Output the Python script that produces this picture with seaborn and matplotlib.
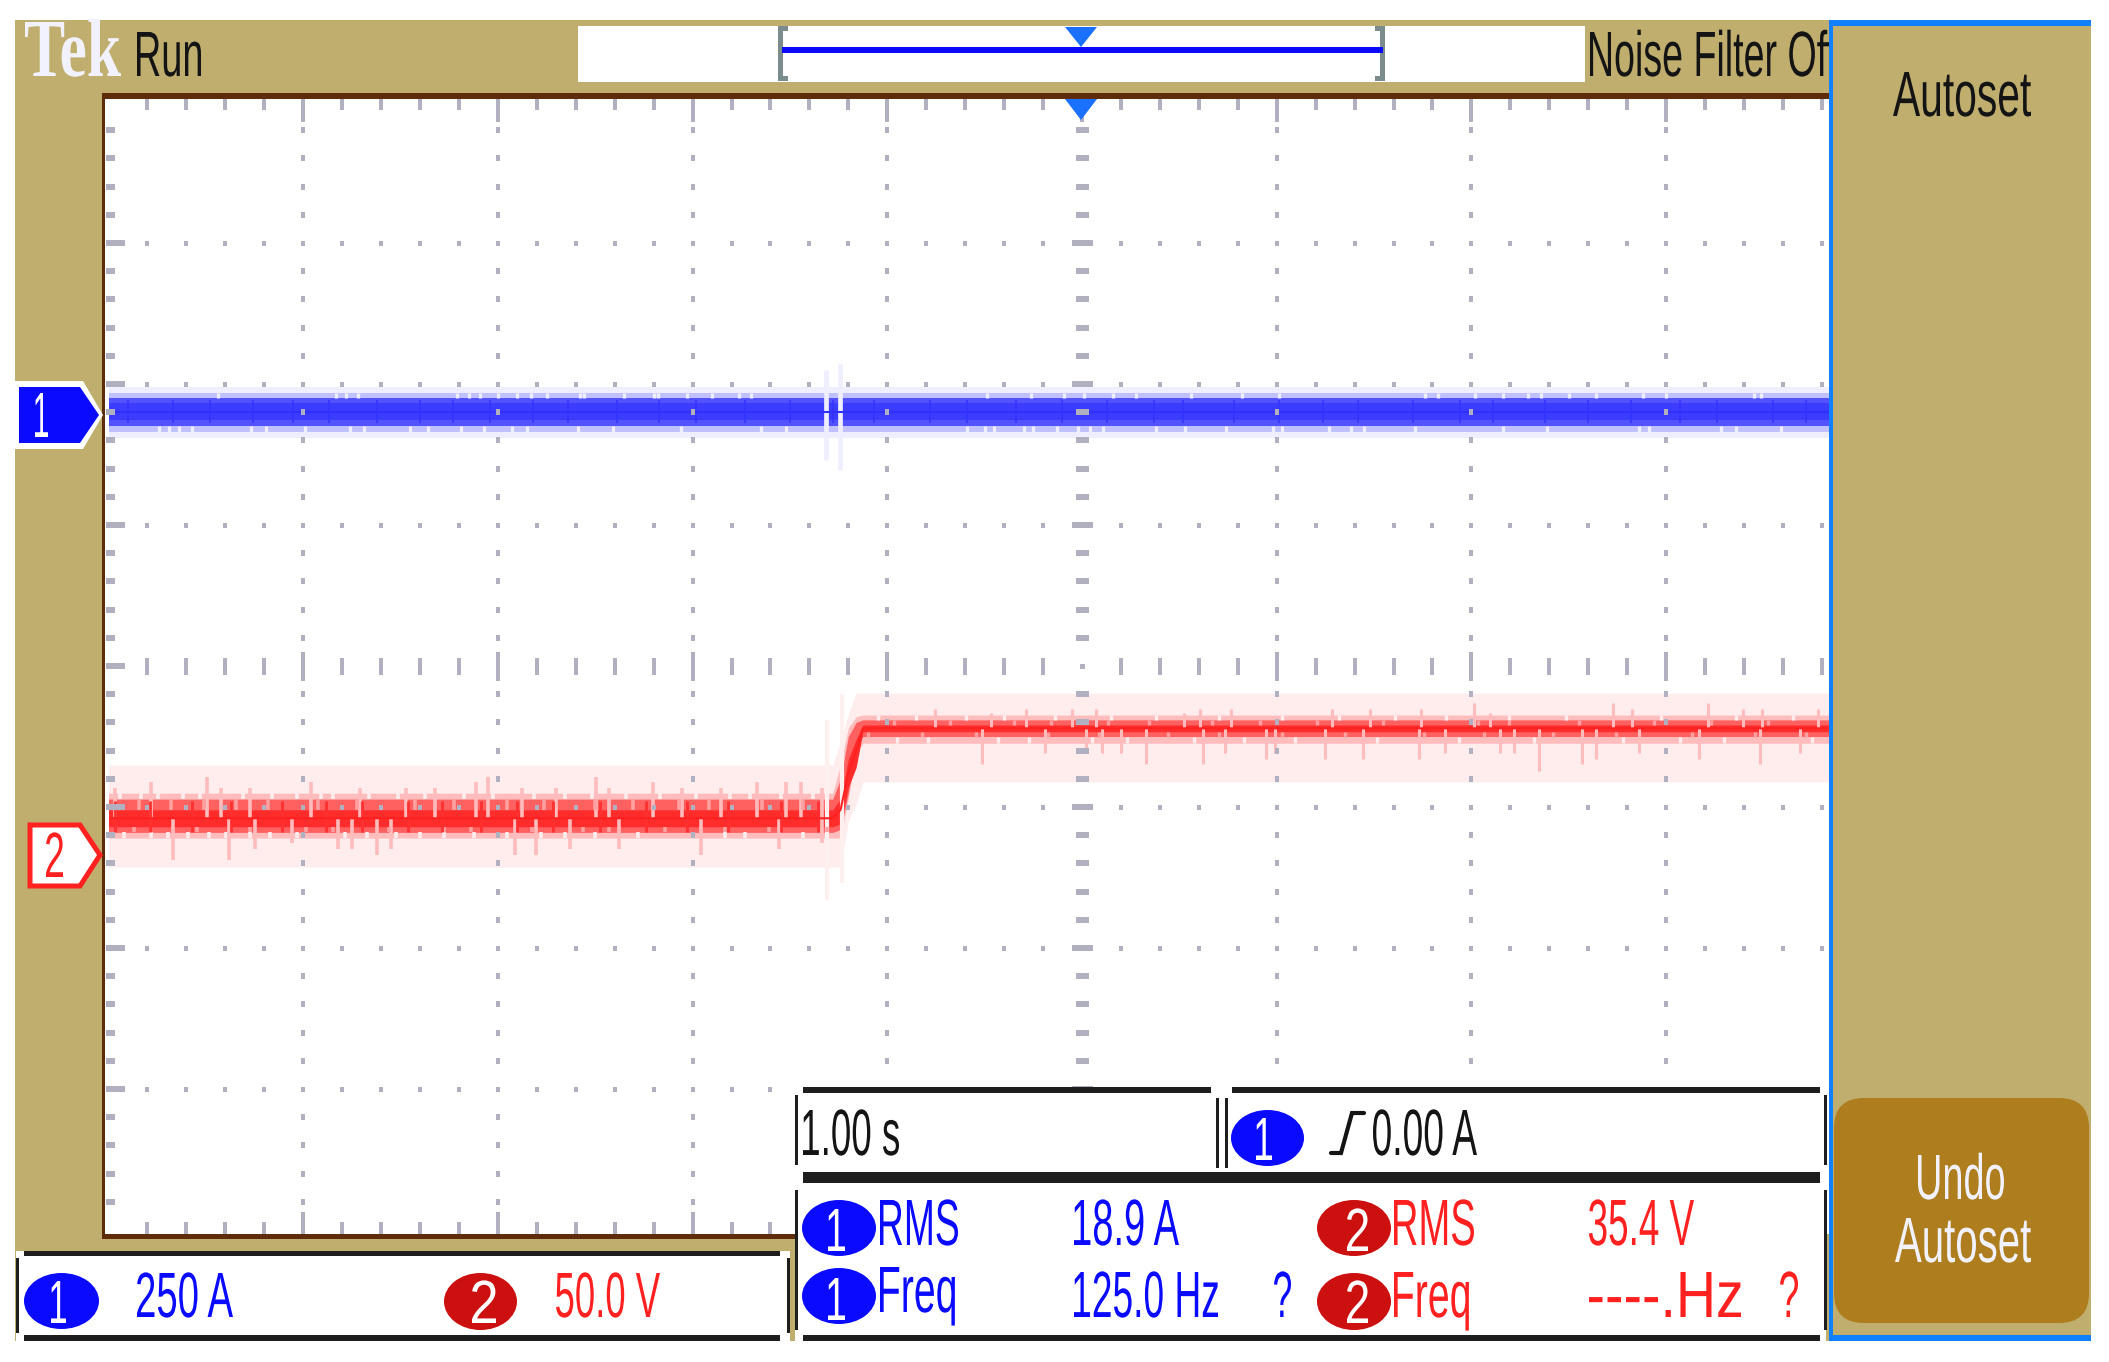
import matplotlib
matplotlib.use("Agg")
import matplotlib.pyplot as plt
import matplotlib.patheffects as pe
from matplotlib.font_manager import FontProperties
from matplotlib.patches import Ellipse, FancyBboxPatch, Polygon, Rectangle
from matplotlib.textpath import TextPath
from matplotlib.transforms import Affine2D
import pandas as pd
import seaborn as sns

# Channel 2 (volts), step around t = 3.8 s
ch2_t = [0, 3.72, 3.76, 3.80, 3.84, 3.875, 8.84]
ch2_mean = [13, 13, 16, 29, 37, 44.9, 44.9]
ch2_light_up = [31.9, 31.9, 40, 50, 57.4, 57.4, 57.4]
ch2_light_lo = [-4.3, -4.3, -4.3, 12, 18, 25.9, 25.9]
ch2_mid_up = [21.9, 21.9, 32, 45, 49, 49.6, 49.6]
ch2_mid_lo = [6, 6, 6, 20, 36, 39.6, 39.6]
ch2_med_up = [19.8, 19.8, 27, 42, 47, 47.9, 47.9]
ch2_med_lo = [8, 8, 9, 22, 38, 42, 42]
ch2_dark_up = [16, 16, 20, 34, 41, 46.1, 46.1]
ch2_dark_lo = [10, 10, 11, 24, 31, 43.7, 43.7]

# Channel 2 spikes
low_up_t = [0.219, 0.505, 1.04, 1.887, 1.949, 2.502, 2.796, 3.331, 3.48, 3.555,
            0.032, 0.58, 0.729, 1.29, 1.526, 1.675, 2.124, 2.298, 2.57, 2.945, 3.144, 3.667]
low_up_v = [25.9, 27.8, 25.9, 25.9, 27.8, 27.8, 25.9, 25.9, 25.9, 25.9,
            23.7, 23.7, 23.7, 23.7, 23.7, 23.7, 23.7, 23.7, 23.7, 23.7, 23.7, 23.7]
low_down_t = [0.331, 0.617, 0.754, 0.941, 1.178, 1.252, 1.377, 1.451, 2.086, 2.198,
              2.372, 2.621, 3.045, 3.443, 3.667]
low_down_v = [-1.9, -1.9, 2.1, 4.2, 2.1, 2.1, 0.1, 2.1, 0.1, 0.1, 2.1, 2.1, 0.1, 2.1, 4.2]
high_up_t = [4.243, 4.535, 4.714, 4.95, 5.07, 5.524, 5.605, 5.767, 6.286, 6.481,
             6.74, 7.016, 7.097, 7.729, 7.826, 8.216, 8.394, 8.491, 8.783]
high_up_v = [51.6, 50.2, 51.6, 51.6, 51.6, 50.2, 51.6, 51.6, 51.6, 51.6,
             51.6, 53.8, 50.2, 53.8, 51.6, 53.8, 51.6, 51.6, 51.6]
high_down_t = [4.487, 4.811, 5.022, 5.103, 5.2, 5.33, 5.621, 5.735, 5.946, 5.994, 6.247, 6.442,
               6.73, 6.863, 7.145, 7.22, 7.35, 7.567, 7.638, 7.859, 8.167, 8.485, 8.686]
high_down_v = [32.1, 36.1, 36.1, 36.1, 36.1, 32.1, 32.1, 36.1, 33.9, 36.1, 33.9, 33.9,
               33.9, 36.1, 36.1, 36.1, 29.9, 32.1, 33.9, 36.1, 33.9, 32.1, 36.1]
ch2_glitch_t = [3.69, 3.77]
ch2_glitch_up = [47.9, 57]
ch2_glitch_lo = [-16, -10]

# Channel 2 noise: columns where the trace edge drops out
low_gap_top = [0.057, 0.169, 0.256, 0.381, 0.468, 0.692, 0.841, 0.966, 1.09, 1.153, 1.339, 1.489, 1.626,
               1.825, 1.974, 2.186, 2.347, 2.484, 2.659, 2.833, 3.02, 3.194, 3.294, 3.455, 3.617]
low_gap_bot = [0.082, 0.219, 0.306, 0.406, 0.518, 0.605, 0.729, 0.829, 0.966, 1.215, 1.327, 1.476,
               1.601, 1.725, 1.875, 2.049, 2.223, 2.347, 2.497, 2.721, 3.169, 3.269, 3.567]
low_notch_top = [0.157, 0.319, 0.493, 0.655, 0.817, 1.078, 1.277, 1.576, 1.775, 2.049, 2.235, 2.497,
                 2.696, 2.932, 3.082, 3.356, 3.567]
low_notch_bot = [0.132, 0.456, 0.729, 1.016, 1.153, 1.439, 1.725, 1.862, 2.173, 2.435, 2.571, 2.858,
                 3.169, 3.393, 3.69]
low_teeth = [0.032, 0.214, 0.431, 0.63, 0.891, 1.115, 1.302, 1.538, 1.713, 1.912, 2.099, 2.285, 2.522,
             2.759, 2.97, 3.182, 3.455, 3.642]
high_gap_top = [3.952, 4.146, 4.405, 4.6, 4.859, 5.151, 5.378, 5.703, 6.027, 6.319, 6.61, 6.87, 7.194,
                7.486, 7.972, 8.361, 8.653]
high_gap_bot = [4.049, 4.211, 4.568, 4.73, 5.054, 5.232, 5.573, 5.832, 6.092, 6.513, 6.935, 7.324,
                7.778, 8.07, 8.297, 8.751]
high_notch_top = [4.033, 4.324, 4.649, 4.843, 5.135, 5.346, 5.67, 5.913, 6.205, 6.546, 7.032, 7.194,
                  7.551, 7.94, 8.232, 8.524]
high_notch_bot = [3.903, 4.179, 4.454, 4.827, 5.086, 5.443, 5.703, 6.027, 6.351, 6.756, 7.064, 7.421,
                  7.745, 8.135, 8.459, 8.718]

# Channel 1 (amps), flat
ch1_t = [0, 8.84]
ch1_mean = [6, 6]
ch1_light = (-40.8, 49.6)
ch1_mid = (-30, 39)
ch1_med = (-19.5, 30)
ch1_dark = (-9, 21)
ch1_glitch_t = [3.685, 3.757]
ch1_glitch_up = [80, 90]
ch1_glitch_lo = [-80, -97.5]
ch1_gap_top = [0.56, 1.17, 1.22, 1.28, 1.79, 1.85, 1.91, 2.0, 2.1, 2.17, 2.25, 2.42, 2.44, 2.65, 2.8,
               2.82, 2.97, 3.1, 3.24, 3.3, 4.51, 4.74, 4.91, 5.01, 5.16, 5.28, 5.56, 5.82, 6.01, 6.76,
               6.83, 7.02, 7.16, 7.29, 7.36, 7.5, 7.64, 7.88, 8.0, 8.45, 8.49]
ch1_gap_bot = [0.26, 0.31, 0.36, 0.43, 0.73, 0.81, 1.01, 1.24, 1.31, 1.55, 1.64, 1.81, 1.93, 2.07, 2.15,
               2.41, 2.59, 2.94, 3.35, 3.48, 4.41, 4.5, 4.55, 4.7, 4.75, 4.87, 4.98, 5.04, 5.11, 5.38,
               5.53, 5.74, 5.98, 6.03, 6.27, 6.38, 6.45, 6.71, 7.16, 7.39, 7.86, 7.91, 8.28, 8.36, 8.59]
ch1_teeth = [0.1, 0.33, 0.52, 0.74, 0.95, 1.13, 1.38, 1.6, 1.77, 1.96, 2.18, 2.36, 2.61, 2.83, 3.02, 3.27,
             3.5, 3.72, 3.93, 4.22, 4.41, 4.66, 4.9, 5.13, 5.37, 5.52, 5.78, 6.01, 6.24, 6.42, 6.7, 6.94,
             7.11, 7.38, 7.6, 7.82, 8.07, 8.26, 8.55, 8.72]

TAN = "#bfae6e"
BROWN = "#5e2c0a"
TICK = "#b0b0c0"
INK = "#141414"
BLUE = "#0a0aff"
RED_TXT = "#ff2020"
RED_BADGE = "#cc1010"
PANEL_BLUE = "#1080ff"

sns.set_theme(style="white")
DPI = 100
fig = plt.figure(figsize=(21.09, 13.62), dpi=DPI, facecolor="white")

# background, traces, then everything that sits over the traces
bg = fig.add_axes([0, 0, 1, 1], zorder=0)
bg.set_xlim(0, 2109)
bg.set_ylim(1362, 0)
bg.axis("off")
bg.add_patch(Rectangle((15, 20), 2076, 1321, fc=TAN, ec="none"))
bg.add_patch(Rectangle((105, 99), 1724, 1135, fc="white", ec="none"))

ax_a = fig.add_axes([108.5 / 2109, 1 - 1230 / 1362, (1829 - 108.5) / 2109, 1128 / 1362], zorder=1)
ax_a.axis("off")
ax_v = ax_a.twinx()
ax_v.axis("off")

# channel 2
ax_v.fill_between(ch2_t, ch2_light_lo, ch2_light_up, color="#ffeded", lw=0)
ax_v.vlines(ch2_glitch_t, ch2_glitch_lo, ch2_glitch_up, color="#fff0f0", lw=3)
ax_v.fill_between(ch2_t, ch2_mid_lo, ch2_mid_up, color="#ffbcbc", lw=0)
ax_v.vlines(low_gap_top, 19.8, 21.9, color="#ffeded", lw=2.6)
ax_v.vlines(low_gap_bot, 6, 8, color="#ffeded", lw=2.6)
ax_v.vlines(high_gap_top, 47.9, 49.6, color="#ffeded", lw=2.4)
ax_v.vlines(high_gap_bot, 39.6, 42, color="#ffeded", lw=2.4)
ax_v.vlines(low_up_t, 13, low_up_v, color="#ffbcbc", lw=2.6)
ax_v.vlines(low_down_t, 13, low_down_v, color="#ffbcbc", lw=2.6)
ax_v.vlines(high_up_t, 45, high_up_v, color="#ffbcbc", lw=2.2)
ax_v.vlines(high_down_t, 45, high_down_v, color="#ffbcbc", lw=2.2)
ax_v.fill_between(ch2_t, ch2_med_lo, ch2_med_up, color="#ff6060", lw=0)
ax_v.vlines(low_notch_top, 16, 19.8, color="#ffa0a0", lw=2.6)
ax_v.vlines(low_notch_bot, 8, 10, color="#ffa0a0", lw=2.6)
ax_v.vlines(high_notch_top, 46.1, 47.9, color="#ffa0a0", lw=2.4)
ax_v.vlines(high_notch_bot, 42, 43.7, color="#ffa0a0", lw=2.4)
ax_v.fill_between(ch2_t, ch2_dark_lo, ch2_dark_up, color="#ff2c2c", lw=0)
ax_v.vlines(low_teeth, 8, 19, color="#ff3030", lw=2)
ch2_df = pd.DataFrame({"time": ch2_t, "volts": ch2_mean})
sns.lineplot(data=ch2_df, x="time", y="volts", color="#ff2020", lw=1.5, ax=ax_v, errorbar=None)

# channel 1
ax_a.fill_between(ch1_t, ch1_light[0], ch1_light[1], color="#eeeefe", lw=0)
ax_a.vlines(ch1_glitch_t, ch1_glitch_lo, ch1_glitch_up, color="#eeeefe", lw=3.4)
ax_a.fill_between(ch1_t, ch1_mid[0], ch1_mid[1], color="#c0c0ff", lw=0)
ax_a.vlines(ch1_gap_top, 30, 39, color="#eeeefe", lw=2.4)
ax_a.vlines(ch1_gap_bot, -30, -19.5, color="#eeeefe", lw=2.4)
ax_a.fill_between(ch1_t, ch1_med[0], ch1_med[1], color="#5252ff", lw=0)
ax_a.fill_between(ch1_t, ch1_dark[0], ch1_dark[1], color="#3c3cff", lw=0)
ax_a.vlines(ch1_teeth, -14, 26, color="#3434ff", lw=1.2)
ch1_df = pd.DataFrame({"time": ch1_t, "amps": ch1_mean})
sns.lineplot(data=ch1_df, x="time", y="amps", color="#3030ff", lw=1.5, ax=ax_a, errorbar=None)
ax_a.set_xlim(0, 8.837)
ax_v.set_xlim(0, 8.837)
ax_v.set_ylim(-133, 267)
ax_a.set_ylim(-1445, 555)

top = fig.add_axes([0, 0, 1, 1], zorder=3)
top.set_xlim(0, 2109)
top.set_ylim(1362, 0)
top.axis("off")
top.patch.set_alpha(0)


class Squeeze(pe.AbstractPathEffect):
    # the scope font is tall and narrow, so squeeze glyphs sideways
    def __init__(self, sx, shift=0):
        super().__init__()
        self.sx = sx
        self.shift = shift

    def draw_path(self, renderer, gc, tpath, affine, rgbFace=None):
        moved = Affine2D().scale(self.sx, 1) + affine + Affine2D().translate(self.shift, 0)
        renderer.draw_path(gc, tpath, moved, rgbFace)


def label(s, x0, x1, base, cap, color, family="Liberation Sans", weight="normal", z=6, shift=0):
    fp = FontProperties(family=family, weight=weight)
    h1 = TextPath((0, 0), "H", size=100, prop=fp).get_extents().height / 100
    fs = cap * 72 / DPI / h1
    ext = TextPath((0, 0), s, size=fs, prop=fp).get_extents()
    sx = (x1 - x0) / (ext.width * DPI / 72)
    top.text(x0 - ext.x0 * sx * DPI / 72 - shift, base, s, family=family, weight=weight, fontsize=fs,
             color=color, ha="left", va="baseline", zorder=z, path_effects=[Squeeze(sx, shift)])


def box(x, y, w, h, color, z=2):
    top.add_patch(Rectangle((x, y), w, h, fc=color, ec="none", zorder=z))


def badge(x0, x1, y0, y1, color, digit, dx0, dx1, base):
    top.add_patch(Ellipse(((x0 + x1) / 2, (y0 + y1) / 2), x1 - x0, y1 - y0, fc=color, ec="none", zorder=5))
    label(digit, dx0, dx1, base, 42, "white")


# graticule
X0, DX = 108.5, 194.7
Y0, DY = 102, 141
xs_minor = [X0 + DX * i / 5 for i in range(1, 45)]
for n, x in enumerate(xs_minor, start=1):
    major = n % 5 == 0
    centre = n == 25
    if major:
        box(x - 2, 99, 4, 23, TICK)
        box(x - 2, 1212, 4, 22, TICK)
    else:
        box(x - 2, 99, 4, 11, TICK)
        box(x - 2, 1222, 4, 12, TICK)
    if centre:
        box(x - 2.5, 664, 5, 5, TICK)
    elif major:
        box(x - 2, 652, 4, 29, TICK)
    else:
        box(x - 2, 658, 4, 17, TICK)
    for j in (1, 2, 3, 5, 6, 7):
        box(x - 2, Y0 + DY * j - 2.5, 4, 5, TICK)
for n in range(1, 40):
    y = Y0 + DY * n / 5
    major = n % 5 == 0
    for i in range(1, 9):
        x = X0 + DX * i
        if i == 5:
            w = 21 if major else 13
            if n != 20:
                box(x - w / 2, y - 3, w, 6, TICK)
        elif not major:
            box(x - 2, y - 3, 4, 6, TICK)
    box(106, y - 3, 19 if major else 9, 6, TICK)

# plot frame
box(102, 93, 1727, 6, BROWN, z=3)
box(102, 93, 3, 1146, BROWN, z=3)
box(102, 1234, 693, 5, BROWN, z=3)

# header
box(578, 26, 1007, 56, "white", z=3)
box(778, 28, 5, 52, "#7a8c8c", z=3)
box(778, 26, 10, 5, "#7a8c8c", z=3)
box(778, 76, 10, 5, "#7a8c8c", z=3)
box(1380, 28, 5, 52, "#7a8c8c", z=3)
box(1375, 26, 10, 5, "#7a8c8c", z=3)
box(1375, 76, 10, 5, "#7a8c8c", z=3)
box(782, 47, 601, 6, BLUE, z=4)
top.add_patch(Polygon([(1065, 27), (1097, 27), (1081, 47)], fc="#1a70ff", ec="none", zorder=4))
top.add_patch(Polygon([(1065, 99), (1097, 99), (1081, 120)], fc="#1a70ff", ec="none", zorder=4))
label("Tek", 25, 121, 76, 54, "#f2f2ff", family="Liberation Serif", weight="bold", shift=24)
label("Run", 137, 201, 76, 44, INK)
label("Noise Filter Off", 1590, 1837, 76, 44, INK, z=4, shift=200)

# right hand menu
box(1829, 20, 262, 1321, TAN, z=5)
box(1829, 20, 262, 6, PANEL_BLUE, z=5)
box(1829, 20, 4, 1321, PANEL_BLUE, z=5)
box(1829, 1335, 262, 6, PANEL_BLUE, z=5)
top.add_patch(FancyBboxPatch((1834, 1098), 255, 225, boxstyle="round,pad=0,rounding_size=30",
                             fc="#ad7d1e", ec="none", zorder=5))
label("Autoset", 1893, 2031, 116, 44, INK)
label("Undo", 1918, 2004, 1199, 44, "#f2f2ff")
label("Autoset", 1895, 2031, 1262, 44, "#f2f2ff")

# channel markers
top.add_patch(Polygon([(15, 381), (83, 381), (103, 415), (83, 449), (15, 449)], fc="white", ec="none", zorder=4))
top.add_patch(Polygon([(19, 387), (80, 387), (99, 415), (80, 443), (19, 443)], fc=BLUE, ec="none", zorder=4))
label("1", 35, 48, 437, 44, "white")
top.add_patch(Polygon([(30, 825), (80, 825), (100, 855), (80, 886), (30, 886)], fc="white", ec="#ff2020", lw=3.6,
                      zorder=4, joinstyle="miter"))
label("2", 46, 63, 877, 44, RED_TXT)

# readout boxes
box(16, 1251, 774, 90, "white", z=4)
box(24, 1251, 756, 5, "#1e1e1e", z=4)
box(24, 1335, 756, 6, "#1e1e1e", z=4)
box(16, 1258, 3, 75, "#1e1e1e", z=4)
box(787, 1258, 3, 75, "#1e1e1e", z=4)
box(795, 1087, 1031, 254, "white", z=4)
box(803, 1087, 408, 6, "#1e1e1e", z=4)
box(1232, 1087, 588, 6, "#1e1e1e", z=4)
box(803, 1172, 1017, 11, "#1e1e1e", z=4)
box(803, 1335, 1017, 6, "#1e1e1e", z=4)
box(795, 1095, 3, 70, "#1e1e1e", z=4)
box(795, 1190, 3, 140, "#1e1e1e", z=4)
box(1216, 1098, 3, 70, "#1e1e1e", z=4)
box(1225, 1098, 3, 70, "#1e1e1e", z=4)
box(1824, 1095, 3, 70, "#1e1e1e", z=4)
box(1824, 1190, 3, 140, "#1e1e1e", z=4)

badge(24, 99, 1273, 1329, BLUE, "1", 51, 66, 1323)
badge(444, 517, 1273, 1330, RED_BADGE, "2", 472, 496, 1323)
badge(1231, 1304, 1110, 1166, BLUE, "1", 1256, 1272, 1160)
badge(802, 876, 1200, 1256, BLUE, "1", 828, 845, 1251)
badge(1317, 1391, 1200, 1256, RED_BADGE, "2", 1347, 1368, 1251)
badge(802, 876, 1268, 1324, BLUE, "1", 828, 845, 1320)
badge(1317, 1391, 1273, 1330, RED_BADGE, "2", 1347, 1368, 1323)

label("250 A", 137, 233, 1317, 44, BLUE)
label("50.0 V", 556, 660, 1317, 44, RED_TXT)
label("1.00 s", 803, 899, 1155, 45, INK)
label("0.00 A", 1373, 1477, 1155, 45, INK)
top.plot([1331, 1341, 1352, 1364], [1153, 1153, 1113, 1113], color=INK, lw=3, zorder=6, solid_joinstyle="miter")

label("RMS", 880, 958, 1245, 45, BLUE)
label("18.9 A", 1074, 1179, 1245, 45, BLUE)
label("RMS", 1394, 1474, 1245, 45, RED_TXT)
label("35.4 V", 1589, 1694, 1245, 45, RED_TXT)
label("Freq", 880, 955, 1312, 45, BLUE)
label("125.0 Hz", 1074, 1218, 1317, 45, BLUE, shift=50)
label("?", 1274, 1291, 1317, 45, BLUE, shift=-38)
label("Freq", 1394, 1469, 1317, 45, RED_TXT)
label("----.Hz", 1589, 1741, 1317, 45, RED_TXT)
label("?", 1780, 1798, 1317, 45, RED_TXT)

fig.savefig("out.png", dpi=DPI)
